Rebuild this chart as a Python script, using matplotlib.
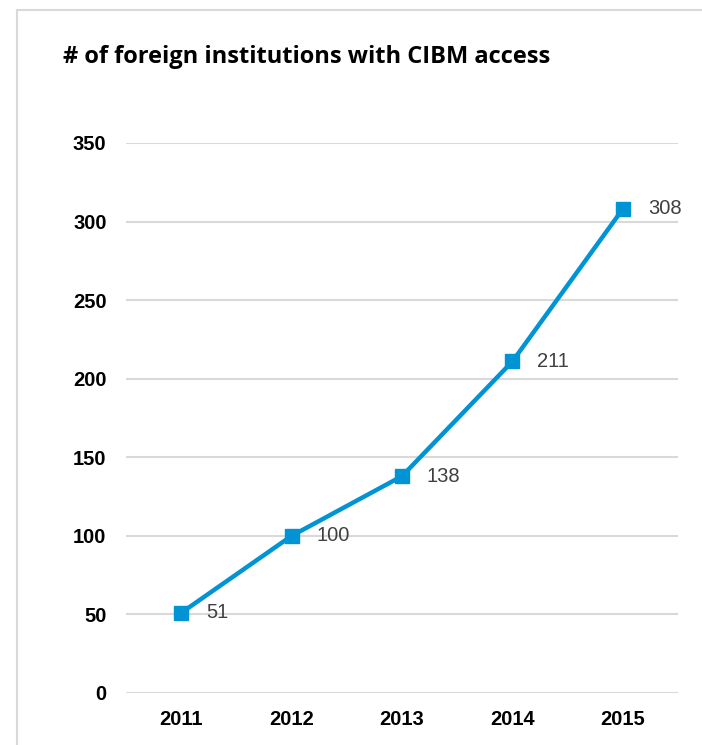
import matplotlib
matplotlib.use("Agg")
from matplotlib import pyplot as plt
from matplotlib.patches import Rectangle

years = ["2011", "2012", "2013", "2014", "2015"]
institutions = [51, 100, 138, 211, 308]
y_ticks = [0, 50, 100, 150, 200, 250, 300, 350]

line_color = "#0094D4"
grid_color = "#D9D9D9"

W, H = 702, 745
fig = plt.figure(figsize=(W / 100, H / 100), dpi=100)

# outer frame, runs off the right and bottom edges
fig.patches.append(Rectangle((17 / W, -0.05), 1.2, 1 - 10 / H + 0.05,
                             transform=fig.transFigure, fill=False,
                             edgecolor=grid_color, linewidth=1.5))

fig.text(63 / W, 1 - 57 / H, "# of foreign institutions with CIBM access",
         fontfamily="Open Sans", fontweight="bold", fontsize=17,
         ha="left", va="center", color="black")

ax = fig.add_axes([126 / W, 1 - 693 / H, 552 / W, 550 / H])
x = list(range(len(years)))
ax.plot(x, institutions, color=line_color, linewidth=3.2, marker="s",
        markersize=10, solid_joinstyle="miter", clip_on=False, zorder=3)

for xi, v in zip(x, institutions):
    ax.annotate(str(v), (xi, v), xytext=(18, 0), textcoords="offset points",
                ha="left", va="center", fontsize=14.5, color="#404040",
                fontfamily="Liberation Sans")

ax.set_xlim(-0.5, len(years) - 0.5)
ax.set_ylim(0, 350)
ax.set_xticks(x)
ax.set_xticklabels(years)
ax.set_yticks(y_ticks)
ax.set_yticklabels([str(t) for t in y_ticks])
for lbl in ax.get_xticklabels() + ax.get_yticklabels():
    lbl.set_fontfamily("Liberation Sans")
    lbl.set_fontweight("bold")
    lbl.set_fontsize(14.5)
ax.tick_params(axis="both", length=0)
ax.tick_params(axis="x", pad=12)
ax.tick_params(axis="y", pad=14)

ax.grid(axis="y", color=grid_color, linewidth=1.5)
ax.set_axisbelow(True)
for s in ax.spines.values():
    s.set_visible(False)

fig.savefig("out.png", dpi=100)
